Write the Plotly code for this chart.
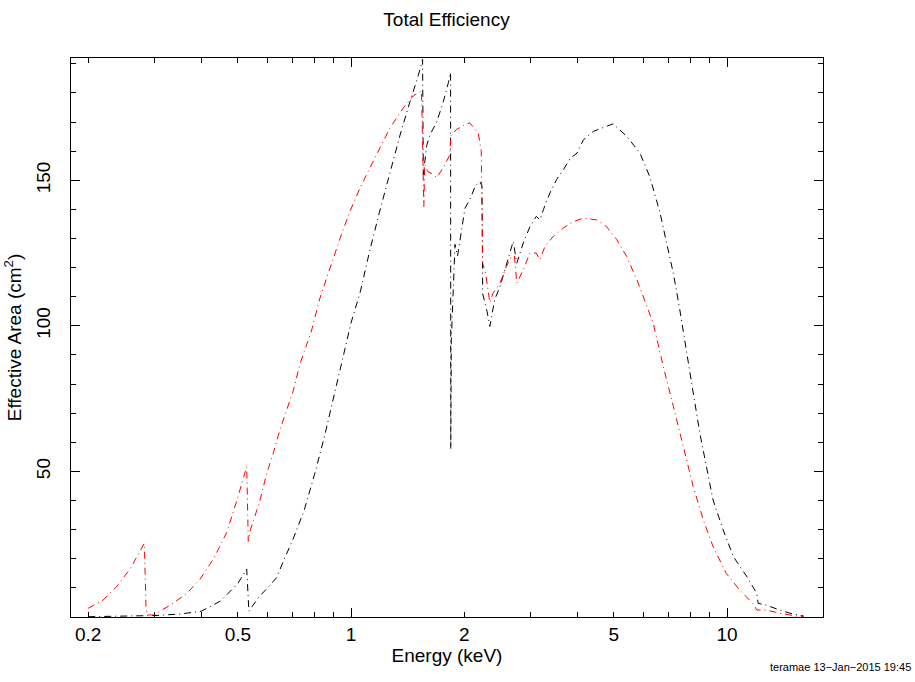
import plotly.graph_objects as go
import math

# ---- data ----
black_energy = [0.2, 0.25, 0.3, 0.35, 0.4, 0.45, 0.5, 0.528, 0.535, 0.545, 0.57, 0.6, 0.634,
                0.66, 0.7, 0.75, 0.8, 0.85, 0.9, 0.95, 1.0, 1.06, 1.12, 1.19, 1.27, 1.35,
                1.435, 1.51, 1.55, 1.557, 1.59, 1.62, 1.69, 1.76, 1.815, 1.84, 1.842, 1.848,
                1.87, 1.89, 1.92, 1.97, 2.01, 2.07, 2.14, 2.2, 2.23, 2.24, 2.3, 2.34, 2.41,
                2.49, 2.59, 2.70, 2.76, 2.87, 2.99, 3.11, 3.18, 3.25, 3.38, 3.52, 3.67, 3.83,
                3.99, 4.15, 4.41, 4.68, 4.98, 5.41, 5.87, 6.24, 6.63, 6.91, 7.2, 7.49, 7.8,
                8.13, 8.47, 8.82, 9.18, 9.76, 10.4, 11.3, 12.0, 12.1, 12.7, 13.8, 14.7, 16.0]
black_area = [0.1, 0.2, 0.5, 1.0, 2.0, 5.5, 11.5, 16.5, 2.0, 3.5, 7.0, 10.0, 13.5,
              19.0, 26.5, 36.5, 49.0, 62.0, 76.0, 89.5, 101.0, 112.0, 125.5, 139.0, 153.0, 165.5,
              177.0, 186.0, 191.5, 152.0, 162.0, 165.5, 170.0, 177.0, 183.5, 187.0, 57.7, 95.0,
              112.0, 128.0, 124.0, 133.5, 140.5, 143.3, 148.0, 149.6, 148.0, 111.0, 105.0, 99.8, 109.0,
              113.5, 121.5, 129.0, 121.5, 128.4, 134.0, 137.6, 136.4, 140.0, 145.6, 150.2, 153.6, 157.6,
              159.3, 163.9, 166.8, 168.0, 169.4, 165.1, 159.3, 151.0, 139.0, 128.4, 118.0, 105.5, 90.6,
              77.0, 63.0, 51.6, 40.2, 30.0, 20.7, 13.8, 8.1, 4.7, 4.1, 2.4, 1.3, 0.3]

red_energy = [0.2, 0.219, 0.238, 0.259, 0.282, 0.285, 0.288, 0.301, 0.311, 0.33, 0.365, 0.397,
              0.431, 0.467, 0.497, 0.528, 0.533, 0.540, 0.55, 0.573, 0.597, 0.621, 0.647, 0.675,
              0.703, 0.732, 0.762, 0.786, 0.827, 0.879, 0.935, 0.994, 1.057, 1.123, 1.194, 1.27,
              1.378, 1.465, 1.54, 1.562, 1.57, 1.6, 1.655, 1.69, 1.759, 1.834, 1.84, 1.91, 2.0,
              2.07, 2.18, 2.22, 2.24, 2.28, 2.34, 2.38, 2.49, 2.59, 2.67, 2.72, 2.76, 2.87, 2.99,
              3.11, 3.18, 3.28, 3.45, 3.67, 3.9, 4.15, 4.5, 4.78, 5.09, 5.41, 5.76, 6.13, 6.36,
              6.55, 6.77, 7.2, 7.65, 8.13, 8.65, 9.18, 9.95, 10.8, 11.7, 12.0, 12.7, 13.8, 15.3, 16.0]
red_area = [3.0, 5.8, 10.4, 16.7, 25.3, 3.0, 0.7, 0.7, 2.1, 4.0, 8.0, 13.0,
            20.0, 29.0, 40.0, 51.6, 26.0, 30.0, 33.0, 40.2, 49.4, 56.2, 64.3, 71.1,
            78.0, 87.0, 94.0, 98.6, 109.6, 120.0, 130.0, 139.4, 147.4, 154.3, 161.2, 168.0,
            174.9, 179.0, 180.7, 141.0, 155.4, 153.0, 152.0, 150.9, 154.3, 158.9, 165.2, 167.5, 169.0,
            169.7, 166.2, 160.0, 121.5, 118.0, 108.0, 111.0, 114.7, 120.4, 123.8, 124.0, 114.7, 119.2, 125.0,
            125.0, 122.7, 127.3, 130.7, 133.6, 135.8, 137.0, 136.4, 134.1, 129.6, 123.8, 115.8, 106.6, 101.0,
            94.0, 86.0, 72.3, 58.5, 44.8, 33.3, 24.2, 15.0, 9.3, 4.7, 2.4, 2.4, 1.3, 0.3, 0.1]

x_label_ticks = [0.2, 0.5, 1, 2, 5, 10]
x_label_text = ["0.2", "0.5", "1", "2", "5", "10"]
x_minor_ticks = [0.3, 0.4, 0.6, 0.7, 0.8, 0.9, 3, 4, 6, 7, 8, 9]
x_major_ticks = [1, 10]
y_label_ticks = [50, 100, 150]

FONT = "Liberation Sans, Arial, Helvetica, sans-serif"
DASH = "7px,4px,1px,4px"
xrange_log = [math.log10(0.18), math.log10(18.0)]

fig = go.Figure()
fig.add_trace(go.Scatter(x=black_energy, y=black_area, mode="lines",
                         line=dict(color="#000000", width=1, dash=DASH),
                         showlegend=False, hoverinfo="skip"))
fig.add_trace(go.Scatter(x=red_energy, y=red_area, mode="lines",
                         line=dict(color="#ff0000", width=1, dash=DASH),
                         showlegend=False, hoverinfo="skip"))
# empty trace to realise the overlay axis carrying the long decade ticks
fig.add_trace(go.Scatter(x=[], y=[], xaxis="x2", yaxis="y", showlegend=False))

fig.update_layout(
    width=915, height=682,
    margin=dict(l=71, r=92, t=58, b=65),
    paper_bgcolor="white", plot_bgcolor="white",
    font=dict(family=FONT, color="#000000", size=19),
    title=dict(text="Total Efficiency", x=0.488, xanchor="center", y=0.972, yanchor="middle",
               yref="container", font=dict(size=19, family=FONT, color="#000000")),
    xaxis=dict(type="log", range=xrange_log, showgrid=False, zeroline=False,
               showline=True, linecolor="#000000", linewidth=1, mirror="ticks",
               ticks="inside", ticklen=5, tickcolor="#000000", tickwidth=1,
               tickmode="array", tickvals=x_label_ticks, ticktext=x_label_text,
               tickfont=dict(size=19, family=FONT, color="#000000"),
               minor=dict(tickmode="array", tickvals=x_minor_ticks, ticks="inside",
                          ticklen=5, tickcolor="#000000", tickwidth=1, showgrid=False),
               title=dict(text="Energy (keV)", standoff=4,
                          font=dict(size=19, family=FONT, color="#000000"))),
    xaxis2=dict(type="log", range=xrange_log, overlaying="x", anchor="y", side="bottom",
                showgrid=False, zeroline=False, showline=False, mirror="ticks",
                ticks="inside", ticklen=9, tickcolor="#000000", tickwidth=1,
                tickmode="array", tickvals=x_major_ticks, showticklabels=False),
    yaxis=dict(range=[0, 192], showgrid=False, zeroline=False,
               showline=True, linecolor="#000000", linewidth=1, mirror="ticks",
               ticks="inside", ticklen=9, tickcolor="#000000", tickwidth=1,
               tickmode="array", tickvals=y_label_ticks, tickangle=-90,
               ticklabelstandoff=12,
               tickfont=dict(size=19, family=FONT, color="#000000"),
               minor=dict(tick0=0, dtick=10, ticks="inside", ticklen=5,
                          tickcolor="#000000", tickwidth=1, showgrid=False),
               title=dict(text="Effective Area (cm<sup>2</sup>)", standoff=6,
                          font=dict(size=19, family=FONT, color="#000000"))),
    annotations=[dict(text="teramae 13\u2212Jan\u22122015 19:45", xref="paper", yref="paper",
                      x=1.12, y=-0.09, xanchor="right", yanchor="middle", showarrow=False,
                      font=dict(size=11, family=FONT, color="#000000"))],
)

fig.write_html("out.html")
